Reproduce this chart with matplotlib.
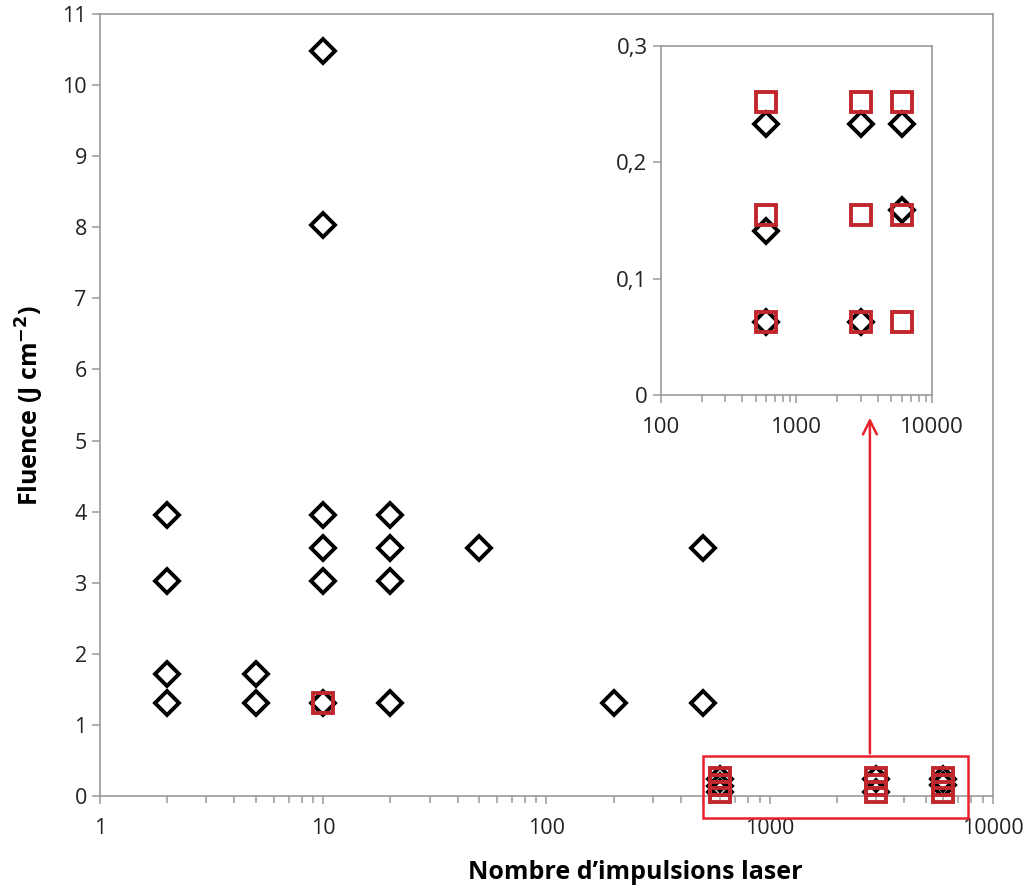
import matplotlib.pyplot as plt
from matplotlib.ticker import FixedLocator, FuncFormatter, NullFormatter, LogLocator

plt.rcParams['font.family'] = ['Open Sans', 'DejaVu Sans']

# diamonds (black) : number of pulses vs fluence
pulses_d = [2, 2, 2, 2, 5, 5, 10, 10, 10, 10, 10, 10, 20, 20, 20, 20, 50, 200, 500, 500,
            600, 600, 600, 3000, 3000, 6000, 6000]
fluence_d = [3.95, 3.02, 1.72, 1.31, 1.72, 1.31, 10.48, 8.03, 3.95, 3.49, 3.02, 1.31,
             3.95, 3.49, 3.02, 1.31, 3.49, 1.31, 3.49, 1.31,
             0.063, 0.141, 0.233, 0.063, 0.233, 0.159, 0.233]

# squares (red)
pulses_s = [10, 600, 600, 600, 3000, 3000, 3000, 6000, 6000, 6000]
fluence_s = [1.31, 0.063, 0.155, 0.252, 0.063, 0.155, 0.252, 0.063, 0.155, 0.252]

x_ticks = [1, 10, 100, 1000, 10000]
y_ticks = list(range(0, 12))
inset_x_ticks = [100, 1000, 10000]
inset_y_ticks = [0, 0.1, 0.2, 0.3]

red = '#C0272D'
bright_red = '#E8202A'
grey = '#9A9A9A'


def style_axes(ax, fs):
    for s in ax.spines.values():
        s.set_color(grey)
        s.set_linewidth(1.2)
    ax.tick_params(which='both', direction='out', color=grey, labelsize=fs, labelcolor='#222222')
    ax.tick_params(which='major', length=6, width=1.1)
    ax.tick_params(which='minor', length=5, width=1.1)
    ax.tick_params(axis='y', which='minor', length=0)
    ax.set_xscale('log')
    ax.xaxis.set_minor_locator(LogLocator(base=10, subs=range(2, 10)))
    ax.xaxis.set_minor_formatter(NullFormatter())
    ax.xaxis.set_major_formatter(FuncFormatter(lambda v, p: f'{v:g}'))


fig = plt.figure(figsize=(10.35, 8.9), dpi=100)
ax = fig.add_axes([0.0966, 0.1056, 0.8628, 0.8787])
style_axes(ax, 15.5)
ax.set_xlim(1, 10000)
ax.set_ylim(0, 11)
ax.xaxis.set_major_locator(FixedLocator(x_ticks))
ax.yaxis.set_major_locator(FixedLocator(y_ticks))
ax.tick_params(axis='x', pad=10)

ax.plot(pulses_d, fluence_d, linestyle='none', marker='D', markersize=12.5,
        markerfacecolor='none', markeredgecolor='black', markeredgewidth=2.8, zorder=3)
ax.plot(pulses_s, fluence_s, linestyle='none', marker='s', markersize=15,
        markerfacecolor='none', markeredgecolor=red, markeredgewidth=2.8, zorder=4, clip_on=False)

ax.set_xlabel('Nombre d\u2019impulsions laser', fontsize=18, fontweight='bold')
ax.xaxis.set_label_coords(0.6, -0.082)
ax.set_ylabel('Fluence (J cm$^{\\mathbf{-2}}$)', fontsize=18, fontweight='bold', labelpad=12)

# zoom rectangle + arrow
rect = plt.Rectangle((505, -0.31), 7730 - 505, 0.87, fill=False, edgecolor=bright_red,
                     linewidth=1.8, clip_on=False, zorder=5)
ax.add_patch(rect)
ax.annotate('', xy=(2810, 5.36), xytext=(2810, 0.56),
            arrowprops=dict(arrowstyle='->', color=bright_red, lw=1.8, mutation_scale=25),
            annotation_clip=False)

# inset
ins = fig.add_axes([0.6384, 0.5562, 0.2621, 0.3921])
style_axes(ins, 16)
ins.set_xlim(100, 10000)
ins.set_ylim(0, 0.3)
ins.xaxis.set_major_locator(FixedLocator(inset_x_ticks))
ins.yaxis.set_major_locator(FixedLocator(inset_y_ticks))
ins.yaxis.set_major_formatter(FuncFormatter(lambda v, p: f'{v:g}'.replace('.', ',')))
ins.tick_params(axis='x', pad=10)

small_d = [(p, f) for p, f in zip(pulses_d, fluence_d) if f < 0.3]
small_s = [(p, f) for p, f in zip(pulses_s, fluence_s) if f < 0.3]
ins.plot([p for p, f in small_d], [f for p, f in small_d], linestyle='none', marker='D',
         markersize=12, markerfacecolor='none', markeredgecolor='black', markeredgewidth=2.8, zorder=3)
ins.plot([p for p, f in small_s], [f for p, f in small_s], linestyle='none', marker='s',
         markersize=14, markerfacecolor='none', markeredgecolor=red, markeredgewidth=2.8, zorder=4)

fig.savefig('out.png', dpi=100)
